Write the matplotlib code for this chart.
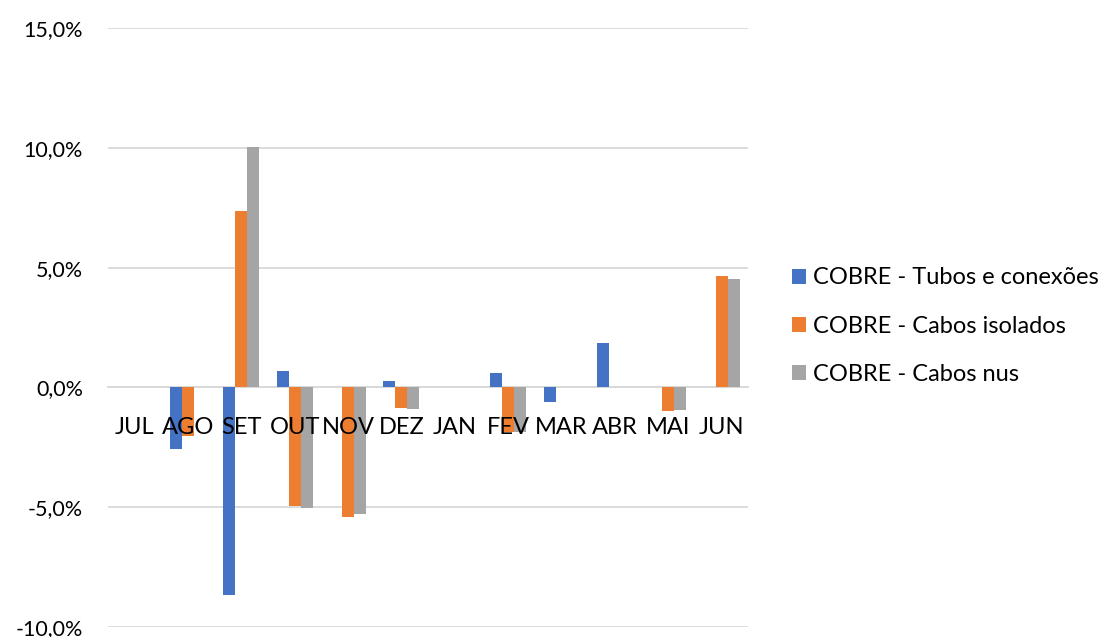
# Variação mensal - COBRE

import matplotlib.pyplot as plt
from matplotlib.ticker import FuncFormatter
import numpy as np

# Data (percent)
meses = ['JUL', 'AGO', 'SET', 'OUT', 'NOV', 'DEZ', 'JAN', 'FEV', 'MAR', 'ABR', 'MAI', 'JUN']
tubos = [0.0, -2.57, -8.65, 0.70, 0.0, 0.25, 0.0, 0.60, -0.62, 1.85, 0.0, 0.0]
isolados = [0.0, -2.01, 7.36, -4.96, -5.39, -0.85, 0.0, -1.87, 0.0, 0.0, -1.00, 4.63]
nus = [0.0, 0.0, 10.04, -5.04, -5.30, -0.92, 0.0, -1.85, 0.0, 0.0, -0.93, 4.54]
series_nomes = ['COBRE - Tubos e conexões', 'COBRE - Cabos isolados', 'COBRE - Cabos nus']
cores = ['#4472C4', '#ED7D31', '#A5A5A5']

plt.rcParams['font.family'] = ['Lato', 'DejaVu Sans']

fig = plt.figure(figsize=(11.02, 6.37), dpi=100)
ax = fig.add_axes([0.098, 0.0157, 0.581, 0.9403])

x = np.arange(len(meses))
w = 0.225
for i, (vals, nome, cor) in enumerate(zip([tubos, isolados, nus], series_nomes, cores)):
    ax.bar(x + (i - 1) * w, vals, w, label=nome, color=cor, zorder=3)

ax.set_xlim(-0.5, len(meses) - 0.5)
ax.set_ylim(-10, 15)
ax.set_yticks([-10, -5, 0, 5, 10, 15])
ax.yaxis.set_major_formatter(FuncFormatter(lambda v, p: f'{v:.1f}%'.replace('.', ',')))
ax.grid(axis='y', color='#d9d9d9', linewidth=1.3, zorder=0)

for s in ['top', 'right', 'left']:
    ax.spines[s].set_visible(False)
ax.spines['bottom'].set_position(('data', 0))
ax.spines['bottom'].set_color('#d9d9d9')
ax.spines['bottom'].set_linewidth(1.3)
ax.spines['bottom'].set_zorder(0)

# month labels sit on top of the bars, like in Excel
ax.set_xticks(x)
ax.set_xticklabels(meses)
ax.xaxis.set_zorder(4)
ax.tick_params(axis='x', length=0, labelsize=17, pad=21)
ax.tick_params(axis='y', length=0, labelsize=15.5, pad=18)

fig.legend(loc='center left', bbox_to_anchor=(0.699, 0.488), frameon=False,
           fontsize=17, handlelength=0.6, handleheight=0.6, handletextpad=0.3,
           labelspacing=1.15)

plt.savefig('out.png', dpi=100)
